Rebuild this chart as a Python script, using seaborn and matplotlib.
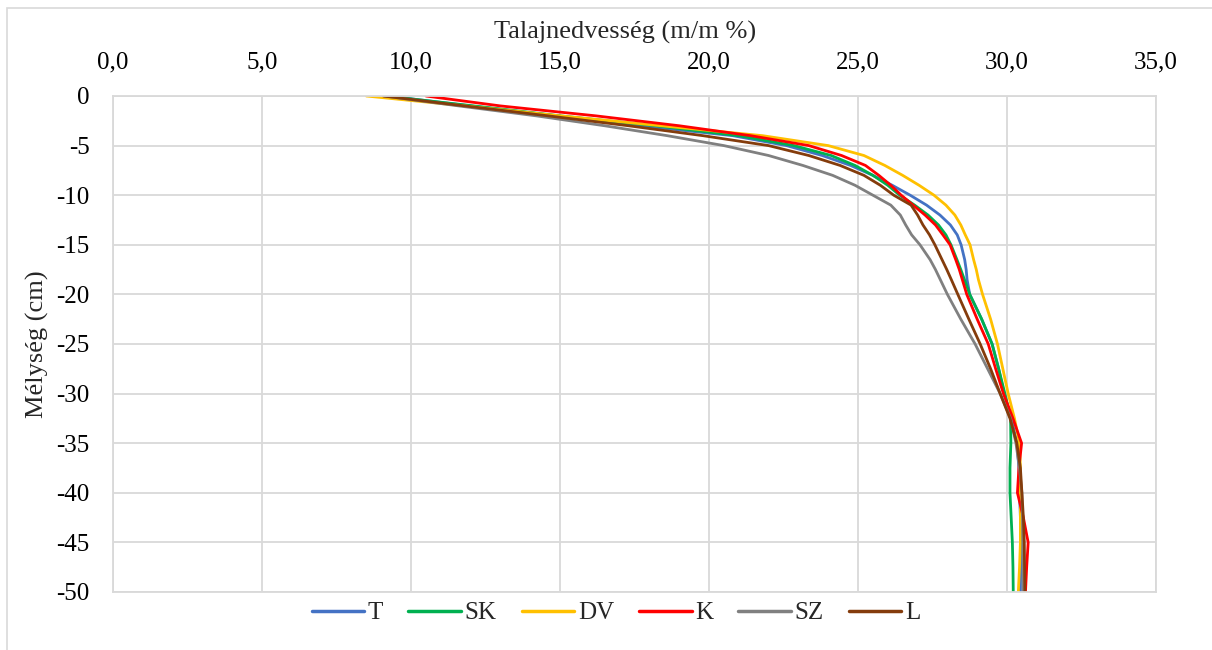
import pandas as pd
import seaborn as sns
import matplotlib.pyplot as plt
from matplotlib.patches import Rectangle
from matplotlib.ticker import FuncFormatter

# depth grid (cm) shared by every profile
depth = [0, -1, -2, -3, -4, -5, -6, -7, -8, -9, -10, -11, -12, -13, -14, -15, -16.5,
         -17.5, -18.5, -20, -22.5, -25, -27.5, -30, -32.5, -35, -37.5, -40, -42.5, -45, -47.5, -50]

# soil moisture (m/m %) per treatment
T = [9.2, 12.0, 14.9, 17.7, 20.8, 22.6, 23.8, 24.75, 25.5, 26.15, 26.75, 27.3, 27.75, 28.1, 28.33, 28.46, 28.58,
     28.63, 28.66, 28.75, 29.15, 29.5, 29.72, 29.9, 30.15, 30.33, 30.4, 30.42, 30.45, 30.47, 30.46, 30.45]
SK = [9.15, 12.1, 15.0, 18.2, 21.0, 22.85, 24.1, 24.9, 25.5, 26.0, 26.4, 26.9, 27.35, 27.7, 27.95, 28.12, 28.32,
      28.45, 28.57, 28.75, 29.15, 29.5, 29.72, 29.93, 30.12, 30.13, 30.1, 30.1, 30.14, 30.18, 30.2, 30.21]
DV = [8.5, 11.8, 15.0, 18.4, 21.8, 24.0, 25.2, 25.9, 26.5, 27.05, 27.55, 27.95, 28.25, 28.45, 28.6, 28.76, 28.88,
      28.97, 29.04, 29.18, 29.45, 29.68, 29.86, 30.04, 30.25, 30.42, 30.45, 30.45, 30.45, 30.45, 30.42, 30.38]
K = [10.5, 13.0, 16.2, 19.0, 21.4, 23.35, 24.45, 25.25, 25.7, 26.1, 26.45, 26.85, 27.25, 27.6, 27.85, 28.09, 28.28,
     28.4, 28.5, 28.65, 29.0, 29.37, 29.62, 29.88, 30.2, 30.49, 30.4, 30.35, 30.55, 30.71, 30.66, 30.62]
SZ = [9.1, 11.6, 14.2, 16.5, 18.6, 20.5, 22.0, 23.15, 24.15, 24.9, 25.5, 26.1, 26.42, 26.6, 26.8, 27.08, 27.42,
      27.6, 27.76, 28.0, 28.45, 28.93, 29.35, 29.77, 30.12, 30.3, 30.42, 30.5, 30.52, 30.53, 30.54, 30.54]
L = [9.07, 11.8, 14.6, 17.3, 19.8, 22.0, 23.35, 24.4, 25.2, 25.75, 26.2, 26.78, 27.0, 27.18, 27.4, 27.58, 27.82,
     27.98, 28.13, 28.35, 28.72, 29.1, 29.45, 29.77, 30.1, 30.33, 30.45, 30.5, 30.55, 30.58, 30.59, 30.6]

names = ['T', 'SK', 'DV', 'K', 'SZ', 'L']
colors = ['#4472C4', '#00B050', '#FFC000', '#FF0000', '#808080', '#843C0C']

frames = []
for name, vals in zip(names, [T, SK, DV, K, SZ, L]):
    frames.append(pd.DataFrame({'nedv': vals, 'depth': depth, 'kezeles': name}))
df = pd.concat(frames, ignore_index=True)

sns.set_theme(style='white')
plt.rcParams['font.family'] = ['Liberation Serif', 'DejaVu Serif']
plt.rcParams['axes.unicode_minus'] = False

fig = plt.figure(figsize=(12.12, 6.5), dpi=100)
ax = fig.add_axes([113 / 1212, 1 - 592 / 650, (1156 - 113) / 1212, (592 - 96) / 650])

# light outer chart border like the Excel chart area
fig.patches.append(Rectangle((7 / 1212, -0.1), 1.2, 1 - 8 / 650 + 0.1, transform=fig.transFigure,
                             fill=False, edgecolor='#D9D9D9', linewidth=1.2))

sns.lineplot(data=df, x='nedv', y='depth', hue='kezeles', palette=colors, hue_order=names,
             orient='y', sort=False, estimator=None, linewidth=2, ax=ax, legend=False)

ax.set_xlim(0, 35)
ax.set_ylim(-50, 0)
ax.set_xticks(range(0, 36, 5))
ax.set_yticks(range(-50, 1, 5))
ax.xaxis.set_major_formatter(FuncFormatter(lambda v, p: f'{v:.1f}'.replace('.', ',')))
ax.yaxis.set_major_formatter(FuncFormatter(lambda v, p: f'{int(v)}'))
ax.xaxis.tick_top()
ax.xaxis.set_label_position('top')
ax.tick_params(axis='x', length=0, pad=16, labelsize=18, colors='black')
ax.tick_params(axis='y', length=0, pad=17, labelsize=18, colors='black')
ax.grid(True, color='#D9D9D9', linewidth=1.3)
for s in ax.spines.values():
    s.set_color('#D9D9D9')
    s.set_linewidth(1.3)

ax.set_xlabel('Talajnedvesség (m/m %)', fontsize=19, labelpad=8)
ax.xaxis.set_label_coords((625 - 113) / (1156 - 113), 1.115)
ax.set_ylabel('Mélység (cm)', fontsize=19, labelpad=5)

handles = [plt.Line2D([], [], color=c, linewidth=2.5) for c in colors]
fig.legend(handles, names, loc='center', bbox_to_anchor=(616 / 1212, 1 - 613 / 650), ncol=6,
           frameon=False, fontsize=18, handlelength=2.1, handletextpad=0.15, columnspacing=1.0)

fig.savefig('out.png', dpi=100)
